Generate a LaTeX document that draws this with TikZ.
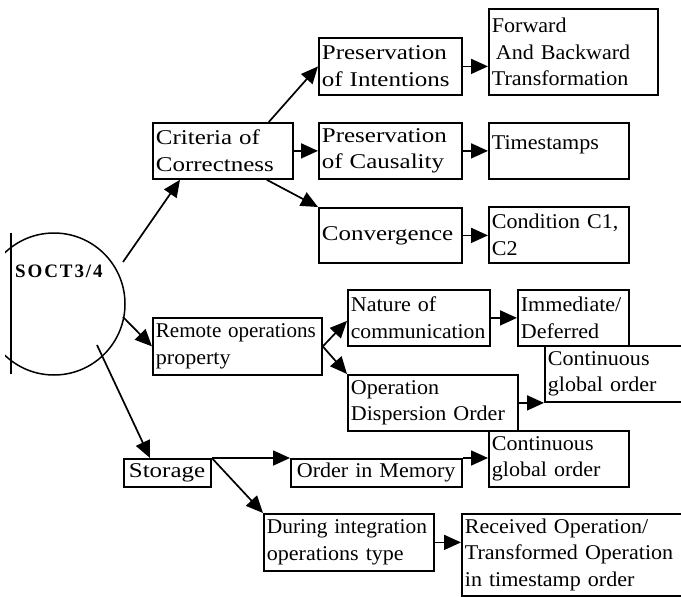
\documentclass[tikz,border=0pt]{standalone}
\usepackage{fontspec}
\setmainfont[FakeStretch=1.05]{Liberation Serif}
\newfontfamily\widefont[FakeStretch=1.19]{Liberation Serif}
\newfontfamily\headfont[LetterSpace=10]{Liberation Serif}
\usetikzlibrary{arrows.meta}
\hyphenpenalty=10000
\exhyphenpenalty=10000
\begin{document}
\begin{tikzpicture}[x=1pt,y=-1pt,
  box/.style={draw, line width=1.8pt, anchor=north west, inner xsep=3pt,
    inner ysep=0pt, align=left, font=\fontsize{21}{26.5}\selectfont},
  widebox/.style={box, font=\widefont\fontsize{21}{26.5}\selectfont},
  arr/.style={line width=1.7pt, -{Triangle[length=17pt,width=15pt]}},
]
\clip (0,0) rectangle (681,597);

% root circle, cut on its left side
\begin{scope}
  \clip (5,0) rectangle (681,597);
  \node[draw, circle, line width=1.5pt, minimum size=142pt, inner sep=0pt] (soc) at (54,304) {};
\end{scope}
\draw[line width=1.5pt] (11,233) -- (11,374);
\node[anchor=west, inner sep=0pt, font=\headfont\bfseries\fontsize{19}{20}\selectfont] (soct) at (15,271) {SOCT3/4};

% first level
\node[widebox, text width=134pt, minimum height=56pt] (crit) at (152,122) {Criteria of\\Correctness};
\node[box, text width=163pt, minimum height=57pt] (rem) at (152,317) {\scalebox{0.955}[1]{Remote operations}\\property};
\node[widebox, text width=81pt, minimum height=28pt] (stor) at (123,458) {\hspace{2pt}Storage};

% criteria of correctness
\node[widebox, text width=137pt, minimum height=57pt] (poi) at (318,37) {Preservation\\of Intentions};
\node[widebox, text width=137pt, minimum height=56pt] (poc) at (318,122) {Preservation\\of Causality};
\node[widebox, text width=137pt, minimum height=55pt] (conv) at (318,207) {Convergence};
\node[box, text width=163pt, minimum height=86pt] (fbt) at (488,8) {Forward\\\hspace{4pt}And Backward\\Transformation};
\node[box, text width=134pt, minimum height=56pt] (ts) at (488,122) {Timestamps\\[-10.5pt]\mbox{}};
\node[box, text width=134pt, minimum height=56pt] (cond) at (488,206) {Condition C1,\\C2};

% remote operations property
\node[box, text width=136pt, minimum height=56pt] (nat) at (347,289) {Nature of\\\scalebox{0.98}[1]{communication}};
\node[box, text width=105pt, minimum height=56pt] (imm) at (517,289) {Immediate/\\Deferred};
\node[box, text width=164pt, minimum height=56pt] (odo) at (347,374) {Operation\\Dispersion Order};
\node[box, text width=140pt, minimum height=56pt] (cgoa) at (544,345) {Continuous\\global order};

% storage
\node[box, text width=165pt, minimum height=28pt] (mem) at (290,458) {\hspace{3pt}Order in Memory};
\node[box, text width=134pt, minimum height=56pt] (cgob) at (488,430) {Continuous\\global order};
\node[box, text width=164pt, minimum height=57pt] (dur) at (263,513) {\scalebox{0.97}[1]{During integration}\\operations type};
\node[box, text width=223pt, minimum height=82pt] (rec) at (461,513) {Received Operation/\\Transformed Operation\\in timestamp order};

% connectors
\coordinate (s1) at (123,262);
\coordinate (s2) at (123,317);
\coordinate (s3) at (97,345);

\draw[arr] (s1) -- ([xshift=28pt]crit.south west);
\draw[arr] (s2) -- (rem.west);
\draw[arr] (s3) -- ([xshift=27pt]stor.north west);

\draw[arr] ([xshift=-25pt]crit.north east) -- (poi.west);
\draw[arr] (crit.east) -- (poc.west);
\draw[arr] ([xshift=-27pt]crit.south east) -- (conv.north west);
\draw[arr] (poi.east) -- (poi.east -| fbt.west);
\draw[arr] (poc.east) -- (poc.east -| ts.west);
\draw[arr] (conv.east) -- (conv.east -| cond.west);

\draw[arr] (rem.east) -- ([yshift=-3pt]nat.west);
\draw[arr] (rem.east) -- (odo.north west);
\draw[arr] (nat.east) -- (imm.west);
\draw[arr] (odo.east) -- (odo.east -| cgoa.west);

\draw[arr] (stor.north east) -- (stor.north east -| mem.west);
\draw[arr] (mem.north east) -- (mem.north east -| cgob.west);
\draw[arr] (stor.north east) -- (dur.north west);
\draw[arr] (dur.east) -- (dur.east -| rec.west);
\end{tikzpicture}
\end{document}
